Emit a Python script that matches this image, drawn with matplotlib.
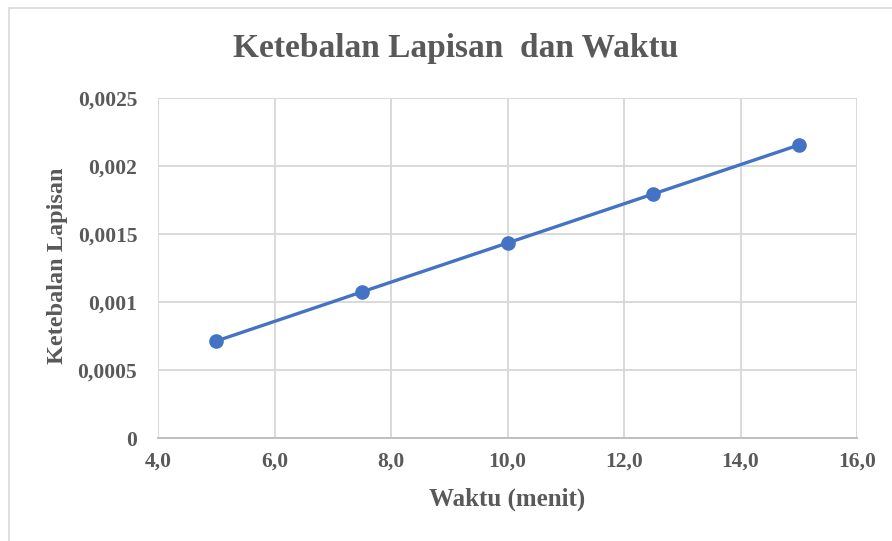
import matplotlib.pyplot as plt
from matplotlib.patches import Rectangle

# data
waktu = [5.0, 7.5, 10.0, 12.5, 15.0]
ketebalan = [0.000713, 0.001074, 0.001434, 0.001794, 0.002154]
x_ticks = [4, 6, 8, 10, 12, 14, 16]
x_tick_labels = ['4,0', '6,0', '8,0', '10,0', '12,0', '14,0', '16,0']
y_ticks = [0, 0.0005, 0.001, 0.0015, 0.002, 0.0025]
y_tick_labels = ['0', '0,0005', '0,001', '0,0015', '0,002', '0,0025']

plt.rcParams['font.family'] = ['Liberation Serif', 'DejaVu Serif']
text_color = '#595959'

fig = plt.figure(figsize=(8.92, 5.41), dpi=100)
# light outer frame like the Excel chart area
fig.patches.append(Rectangle((9 / 892, -0.1), 1.2, 1 - 8 / 541 + 0.1,
                             transform=fig.transFigure, fill=False,
                             edgecolor='#d9d9d9', linewidth=1.2))

ax = fig.add_axes([158 / 892, 1 - 438 / 541, (857 - 158) / 892, (438 - 98) / 541])
ax.plot(waktu, ketebalan, color='#4472C4', linewidth=2.4,
        marker='o', markersize=9.5, zorder=3)

ax.set_xlim(4, 16)
ax.set_ylim(0, 0.0025)
ax.set_xticks(x_ticks)
ax.set_xticklabels(x_tick_labels)
ax.set_yticks(y_ticks)
ax.set_yticklabels(y_tick_labels)

ax.grid(True, color='#d9d9d9', linewidth=1.4)
ax.set_axisbelow(True)
for side in ['top', 'right', 'left']:
    ax.spines[side].set_visible(False)
ax.spines['bottom'].set_color('#bfbfbf')
ax.spines['bottom'].set_linewidth(1.4)
ax.tick_params(length=0, labelsize=15.5, labelcolor=text_color)
ax.tick_params(axis='x', pad=10)
ax.tick_params(axis='y', pad=15)
for lbl in ax.get_xticklabels() + ax.get_yticklabels():
    lbl.set_fontweight('bold')

fig.text(507 / 892, 1 - 499 / 541, 'Waktu (menit)', ha='center', va='center',
         fontsize=18, fontweight='bold', color=text_color)
fig.text(57 / 892, 1 - 266 / 541, 'Ketebalan Lapisan', ha='center', va='center',
         rotation=90, fontsize=17.5, fontweight='bold', color=text_color)
fig.text(456 / 892, 1 - 48 / 541, 'Ketebalan Lapisan  dan Waktu',
         ha='center', va='center', fontsize=24, fontweight='bold', color=text_color)

fig.savefig('out.png', dpi=100)
